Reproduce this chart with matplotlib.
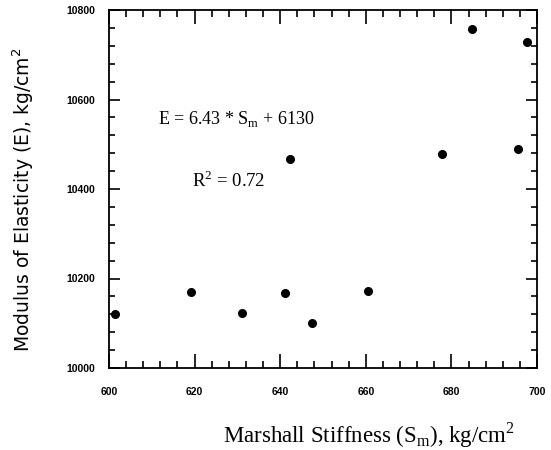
import matplotlib
matplotlib.use("Agg")
import matplotlib.pyplot as plt
from matplotlib.ticker import MultipleLocator

# Data
stiffness = [601.3, 619.2, 631.1, 641.2, 647.4, 642.3, 660.6, 677.7, 695.5, 684.9, 697.7]
modulus = [10120, 10169, 10124, 10168, 10100, 10467, 10173, 10478, 10489, 10757, 10728]

x_ticks = [600, 620, 640, 660, 680, 700]
y_ticks = [10000, 10200, 10400, 10600, 10800]

eq_text = r"E = 6.43 * S$_\mathregular{m}$ + 6130"
r2_text = r"R$^\mathregular{2}$ = 0.72"
x_label = r"Marshall Stiffness (S$_\mathregular{m}$), kg/cm$^\mathregular{2}$"
y_label = r"Modulus of Elasticity (E), kg/cm$^\mathregular{2}$"

serif = ["Liberation Serif", "DejaVu Serif"]
sans = ["Liberation Sans", "DejaVu Sans"]

fig = plt.figure(figsize=(5.51, 4.5), dpi=100)
ax = fig.add_axes([109 / 551, 1 - 368 / 450, (537 - 109) / 551, (368 - 10) / 450])

ax.plot(stiffness, modulus, linestyle="none", marker="o", markersize=5.5,
        color="black")

ax.set_xlim(600, 700)
ax.set_ylim(10000, 10800)
ax.set_xticks(x_ticks)
ax.set_yticks(y_ticks)
ax.xaxis.set_minor_locator(MultipleLocator(4))
ax.yaxis.set_minor_locator(MultipleLocator(40))

ax.tick_params(axis="both", which="both", direction="in", top=True, right=True,
               width=1.2, colors="black")
ax.tick_params(axis="x", which="major", length=10, pad=14)
ax.tick_params(axis="x", which="minor", length=5)
ax.tick_params(axis="y", which="major", length=8, pad=10)
ax.tick_params(axis="y", which="minor", length=4)

for lab in ax.get_xticklabels() + ax.get_yticklabels():
    lab.set_fontfamily(sans)
    lab.set_fontsize(7.5)
    lab.set_fontweight("bold")

for sp in ax.spines.values():
    sp.set_linewidth(1.3)

ax.set_xlabel(x_label, fontfamily=serif, fontsize=16.5)
ax.xaxis.set_label_coords((369 - 109) / 428, -(420 - 368) / 358)
ax.set_ylabel(y_label, fontfamily=["DejaVu Sans"], fontsize=13.5)
ax.yaxis.set_label_coords((36 - 109) / 428, (368 - 200) / 358)

ax.text(629.7, 10556, eq_text, fontfamily=serif, fontsize=13,
        ha="center", va="center")
ax.text(628.0, 10418, r2_text, fontfamily=serif, fontsize=13.5,
        ha="center", va="center")

fig.savefig("out.png", dpi=100)
